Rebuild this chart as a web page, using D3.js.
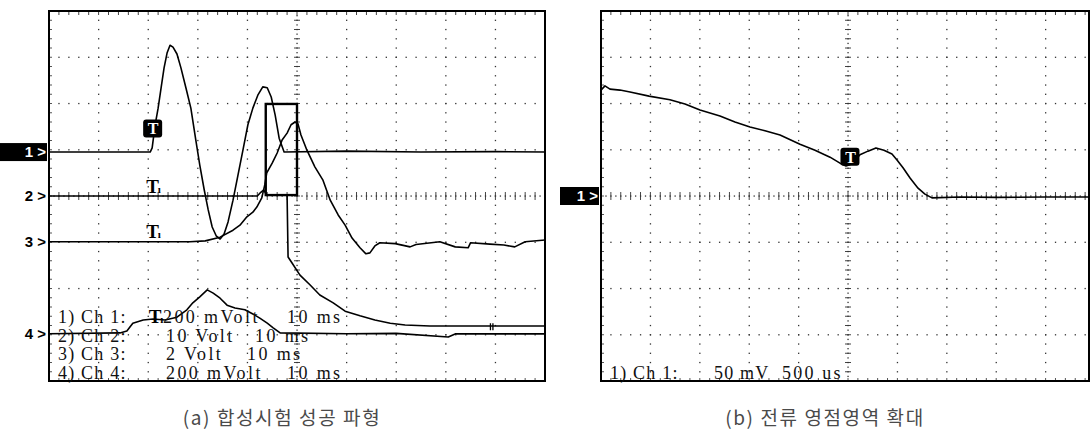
<!DOCTYPE html>
<html>
<head>
<meta charset="utf-8">
<script src="https://cdn.jsdelivr.net/npm/d3@7"></script>
<style>
  body { margin: 0; background: #fff; }
  svg { display: block; }
</style>
</head>
<body>
<svg id="scope" width="1090" height="436"></svg>
<script>
// ---- data: time in ms (left) / us (right), value in screen divisions from centre ----
const ch1_a = [[0,0.95],[20.4,0.95],[20.8,1.04],[21.4,1.54],[22.0,1.90],[22.6,2.34],[23.2,2.77],[23.8,3.09],[24.4,3.26],[25.0,3.22],[25.8,3.07],[26.6,2.77],[27.6,2.34],[28.6,1.90],[29.6,1.21],[30.4,0.67],[31.3,0.13],[32.1,-0.30],[32.9,-0.67],[33.7,-0.86],[34.5,-0.93],[35.3,-0.82],[36.1,-0.56],[37.1,-0.09],[38.1,0.45],[39.1,0.99],[40.1,1.54],[41.1,1.90],[42.1,2.18],[43.1,2.36],[44.0,2.34],[44.8,2.14],[45.6,1.75],[46.4,1.25],[47.4,0.95],[60,0.97],[75,0.95],[90,0.96],[100,0.95]]
const ch2_a = [[0,0],[42.0,0],[42.7,0.08],[43.3,0.13],[43.9,0.02],[48.0,0.02],[48.2,-1.32],[49.0,-1.45],[50.6,-1.71],[52.6,-1.92],[54.6,-2.14],[57.3,-2.31],[59.7,-2.49],[62.7,-2.59],[65.7,-2.68],[68.8,-2.75],[71.8,-2.79],[76.8,-2.81],[100,-2.81]]
const ch3_a = [[0,-0.99],[28.4,-0.99],[31.5,-0.97],[34.5,-0.89],[37.1,-0.74],[38.5,-0.63],[39.9,-0.45],[41.1,-0.35],[41.9,-0.24],[42.9,-0.04],[43.5,0.24],[43.9,0.50],[45.0,0.71],[46.0,0.93],[47.0,1.21],[48.0,1.36],[48.8,1.54],[49.6,1.60],[50.2,1.56],[50.8,1.32],[52.0,0.99],[53.6,0.63],[55.2,0.35],[56.7,-0.09],[58.3,-0.41],[59.7,-0.63],[61.1,-0.91],[62.7,-1.12],[63.9,-1.25],[64.7,-1.23],[65.7,-1.08],[66.7,-1.01],[69.8,-1.03],[72.8,-1.10],[74.0,-1.05],[78.8,-0.99],[81.9,-1.10],[84.5,-1.12],[85.0,-1.01],[88.9,-1.04],[91.7,-1.06],[93.9,-1.10],[96.0,-0.99],[100,-0.95]]
const ch4_a = [[0,-2.98],[14.3,-2.96],[15.7,-2.92],[16.9,-2.75],[19.0,-2.68],[21.0,-2.66],[23.4,-2.68],[25.8,-2.62],[27.8,-2.46],[29.0,-2.31],[30.4,-2.18],[31.9,-2.03],[33.1,-2.10],[34.5,-2.21],[35.9,-2.36],[37.5,-2.42],[39.5,-2.46],[41.1,-2.55],[42.5,-2.64],[44.0,-2.75],[45.2,-2.85],[46.6,-2.96],[60,-2.98],[70,-2.97],[80.5,-3.05],[82,-2.98],[100,-2.98]]
const ch1_b = [[0,2.29],[40,2.38],[91,2.31],[192,2.29],[294,2.25],[486,2.16],[698,2.08],[850,1.99],[1002,1.86],[1204,1.73],[1356,1.60],[1508,1.49],[1660,1.41],[1812,1.32],[2014,1.12],[2166,0.99],[2318,0.84],[2419,0.71],[2480,0.65],[2540,0.69],[2621,0.89],[2702,0.97],[2783,1.04],[2864,0.99],[2945,0.91],[2996,0.78],[3057,0.61],[3128,0.39],[3209,0.17],[3279,0.04],[3350,-0.04],[3634,-0.02],[4000,-0.03],[4500,-0.02],[5000,-0.02]]

const levels_a = [{label:"1", v:0.95, boxed:true}, {label:"2", v:0}, {label:"3", v:-0.99}, {label:"4", v:-2.98}]
const levels_b = [{label:"1", v:0, boxed:true}]
const triggers_a = [{t:21.0, v:1.46, boxed:true}, {t:20.8, v:0.2}, {t:20.8, v:-0.78}, {t:21.3, v:-2.62}]
const triggers_b = [{t:2525, v:0.85, boxed:true}]
const settings_a = [["1) Ch 1:", "200 mVolt", "10 ms"], ["2) Ch 2:", "10 Volt", "10 ms"], ["3) Ch 3:", "2 Volt", "10 ms"], ["4) Ch 4:", "200 mVolt", "10 ms"]]
const settings_b = [["1) Ch 1:", "50 mV", "500 us"]]
const captions = ["(a) 합성시험 성공 파형", "(b) 전류 영점영역 확대"]

const svg = d3.select("#scope")

function drawPanel(cfg) {
  const x = cfg.x, y = cfg.y
  const [x0, x1] = x.range()
  const xr = cfg.clipRight
  const div = (x.domain()[1] - x.domain()[0]) / 10
  const g = svg.append("g")
  const clipId = "clip" + cfg.id
  svg.append("clipPath").attr("id", clipId).append("rect")
    .attr("x", x0 - 1).attr("y", y(4) - 1).attr("width", xr - x0 + 2).attr("height", y(-4) - y(4) + 2)
  const inner = g.append("g").attr("clip-path", `url(#${clipId})`)

  // dotted graticule
  const minorX = d3.range(0, 10.001, 0.2).map(k => x.domain()[0] + k * div)
  const minorY = d3.range(-4, 4.001, 0.2)
  d3.range(1, 10).forEach(i => {
    const xv = x(x.domain()[0] + i * div)
    if (i === 5) return
    inner.selectAll(null).data(minorY).join("rect")
      .attr("x", xv - 0.6).attr("y", d => y(d) - 0.6).attr("width", 1.3).attr("height", 1.3).attr("fill", "#333")
  })
  d3.range(-3, 4).forEach(j => {
    if (j === 0) return
    inner.selectAll(null).data(minorX).join("rect")
      .attr("x", d => x(d) - 0.6).attr("y", y(j) - 0.6).attr("width", 1.3).attr("height", 1.3).attr("fill", "#333")
  })
  // centre axes with minor ticks
  const xc = x(x.domain()[0] + 5 * div)
  inner.selectAll(null).data(minorY).join("line")
    .attr("x1", xc - 3).attr("x2", xc + 3).attr("y1", d => y(d)).attr("y2", d => y(d))
    .attr("stroke", "#444").attr("stroke-width", 1)
  inner.selectAll(null).data(d3.range(-4, 4.001, 0.1)).join("rect")
    .attr("x", xc - 0.6).attr("y", d => y(d) - 0.6).attr("width", 1.3).attr("height", 1.3).attr("fill", "#333")
  inner.selectAll(null).data(minorX).join("line")
    .attr("x1", d => x(d)).attr("x2", d => x(d)).attr("y1", y(0) - 4).attr("y2", y(0) + 4)
    .attr("stroke", "#444").attr("stroke-width", 1)
  inner.selectAll(null).data(d3.range(0, 10.001, 0.1).map(k => x.domain()[0] + k * div)).join("rect")
    .attr("x", d => x(d) - 0.6).attr("y", y(0) - 0.6).attr("width", 1.3).attr("height", 1.3).attr("fill", "#333")
  // border ticks
  inner.selectAll(null).data(minorX).join("line")
    .attr("x1", d => x(d)).attr("x2", d => x(d)).attr("y1", y(4)).attr("y2", y(4) + 4)
    .attr("stroke", "#444")
  inner.selectAll(null).data(minorX).join("line")
    .attr("x1", d => x(d)).attr("x2", d => x(d)).attr("y1", y(-4)).attr("y2", y(-4) - 3)
    .attr("stroke", "#555")
  inner.selectAll(null).data(minorY).join("line")
    .attr("x1", x0).attr("x2", x0 + 3).attr("y1", d => y(d)).attr("y2", d => y(d))
    .attr("stroke", "#555")

  // traces
  const line = d3.line().x(d => x(d[0])).y(d => y(d[1]))
  cfg.traces.forEach(tr => {
    inner.append("path").attr("d", line(tr)).attr("fill", "none")
      .attr("stroke", "#000").attr("stroke-width", 1.6).attr("stroke-linejoin", "round")
  })

  // frame
  g.append("path")
    .attr("d", `M${x0},${y(4)}H${xr}V${y(-4)}H${x0}Z`)
    .attr("fill", "none").attr("stroke", "#000").attr("stroke-width", 2)

  // channel level markers
  cfg.levels.forEach(l => {
    const yy = y(l.v)
    if (l.boxed) {
      g.append("rect").attr("x", cfg.markerX).attr("y", yy - 9).attr("width", x0 - cfg.markerX - 2).attr("height", 18).attr("fill", "#000")
    }
    g.append("text").attr("x", x0 - 3).attr("y", yy + 5).attr("text-anchor", "end")
      .attr("font-family", "Liberation Sans, Arial, sans-serif").attr("font-weight", "bold").attr("font-size", 15)
      .attr("fill", l.boxed ? "#fff" : "#000").text(l.label + " >")
  })

  // trigger markers
  cfg.triggers.forEach(t => {
    const tx = x(t.t), ty = y(t.v)
    if (t.boxed) {
      g.append("rect").attr("x", tx - 10).attr("y", ty - 9).attr("width", 19).attr("height", 18).attr("rx", 3).attr("fill", "#000")
      g.append("text").attr("x", tx).attr("y", ty + 6).attr("text-anchor", "middle")
        .attr("font-family", "Liberation Serif, serif").attr("font-weight", "bold").attr("font-size", 16)
        .attr("fill", "#fff").text("T")
    } else {
      const tt = g.append("text").attr("x", tx - 6).attr("y", ty + 6)
        .attr("font-family", "Liberation Serif, serif").attr("font-weight", "bold").attr("font-size", 19).attr("fill", "#000")
      tt.append("tspan").text("T")
      tt.append("tspan").attr("font-size", 11).attr("dx", -1).text("ı")
    }
  })

  // settings text
  cfg.settings.forEach((row, i) => {
    const ty = y(-4) - 2 - (cfg.settings.length - 1 - i) * 18.7
    row.forEach((s, k) => {
      g.append("text").attr("x", cfg.colX[i][k]).attr("y", ty)
        .attr("font-family", "Liberation Serif, serif").attr("font-size", 18)
        .attr("letter-spacing", cfg.spacing[k])
        .attr("fill", "#111").text(s)
    })
  })

  // caption
  svg.append("text").attr("x", cfg.capX).attr("y", 425).attr("text-anchor", "middle")
    .attr("font-family", "Noto Sans CJK KR, sans-serif").attr("font-size", 19).attr("letter-spacing", 1.6)
    .attr("fill", "#4a4a4a").text(cfg.caption)
}

const yScale = d3.scaleLinear().domain([-4, 4]).range([381, 11])

drawPanel({
  id: "a", x: d3.scaleLinear().domain([0, 100]).range([49, 545]), y: yScale, clipRight: 545,
  traces: [ch4_a, ch3_a, ch2_a, ch1_a], levels: levels_a, triggers: triggers_a, markerX: 0,
  settings: settings_a, colX: [[58, 163, 287], [58, 166, 255], [58, 166, 247], [58, 166, 287]], spacing: [1.2, 2.4, 2.4],
  caption: captions[0], capX: 282
})
// zoom box drawn in panel (a) units
const xa = d3.scaleLinear().domain([0, 100]).range([49, 545])
svg.append("rect").attr("x", xa(43.7)).attr("y", yScale(1.99)).attr("width", xa(50.0) - xa(43.7)).attr("height", yScale(0.02) - yScale(1.99))
  .attr("fill", "none").attr("stroke", "#000").attr("stroke-width", 2.4)
// cursor mark on ch4
svg.append("path").attr("d", `M${xa(89)},${yScale(-2.9)}V${yScale(-2.75)}M${xa(89.5)},${yScale(-2.9)}V${yScale(-2.75)}`)
  .attr("stroke", "#000").attr("stroke-width", 1.3)

drawPanel({
  id: "b", x: d3.scaleLinear().domain([0, 5000]).range([601, 1095]), y: yScale, clipRight: 1089,
  traces: [ch1_b], levels: levels_b, triggers: triggers_b, markerX: 560,
  settings: settings_b, colX: [[610, 714, 782]], spacing: [1.2, 1.2, 2.2],
  caption: captions[1], capX: 825
})
</script>
</body>
</html>
